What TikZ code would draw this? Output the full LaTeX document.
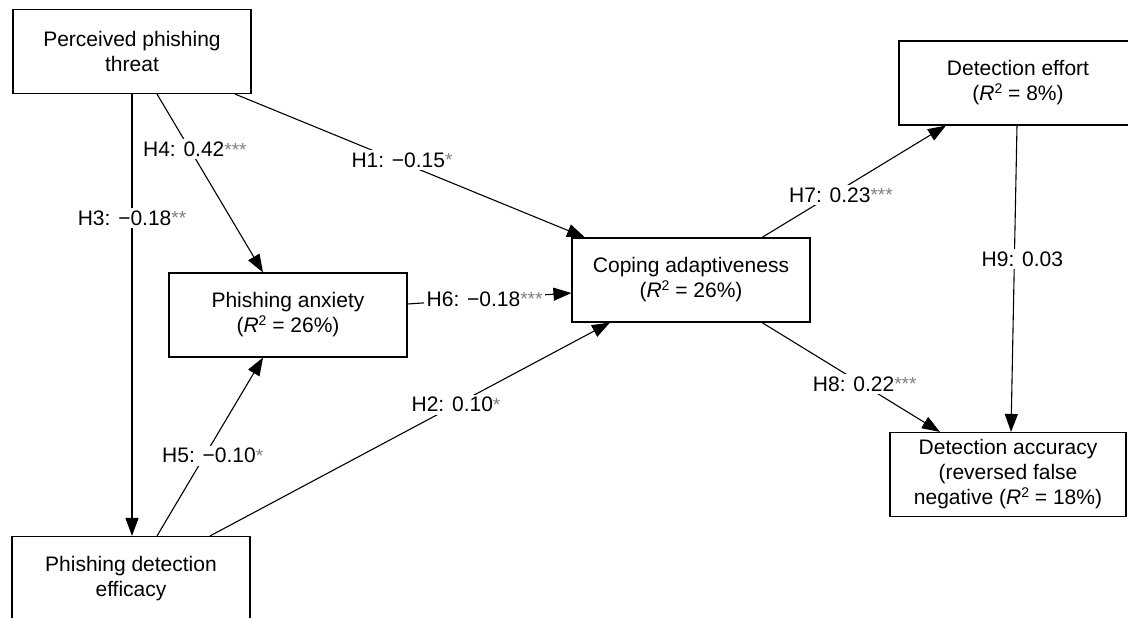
\documentclass[tikz,border=0pt]{standalone}
\usepackage{fontspec}
\setmainfont{Liberation Sans}
\usetikzlibrary{arrows.meta}

% significance stars, R-squared and minus sign
\newcommand{\sig}[1]{\raisebox{0.5pt}{\color{black!50}\fontsize{19}{19}\selectfont #1}}
\newcommand{\rsq}{\textit{R}\raisebox{7.5pt}{\fontsize{14}{14}\selectfont 2}}
\newcommand{\mns}{\char"2212\relax}

\tikzset{
  box/.style={draw, line width=1.1pt, minimum width=238pt, minimum height=84pt,
    inner sep=0pt, align=center, font=\fontsize{21}{25}\selectfont},
  link/.style={line width=1.1pt, -{Triangle[length=18pt,width=13pt]}},
  lab/.style={fill=white, inner sep=2.5pt, font=\fontsize{21}{25}\selectfont},
}

\begin{document}
\begin{tikzpicture}[x=1pt,y=-1pt]
\useasboundingbox (0,0) rectangle (1128,618);

% constructs
\node[box] (threat)   at (132,51.5)  {Perceived phishing\\threat};
\node[box] (anxiety)  at (288,315)   {Phishing anxiety\\(\rsq{} = 26\%)};
\node[box] (efficacy) at (131,578.5) {Phishing detection\\efficacy};
\node[box] (coping)   at (691,280)   {Coping adaptiveness\\(\rsq{} = 26\%)};
\node[box] (effort)   at (1018,83)   {Detection effort\\(\rsq{} = 8\%)};
\node[box, minimum width=236pt] (accuracy) at (1008,474.5)
  {Detection accuracy\\(reversed false\\negative (\rsq{} = 18\%)};

% hypothesised paths
\draw[link] (threat.south) --
  node[lab,pos=0.28] {H3: \mns 0.18\sig{**}} (threat.south |- efficacy.north);
\draw[link] ([xshift=25pt]threat.south) --
  node[lab,pos=0.31,xshift=5pt] {H4: 0.42\sig{***}} ([xshift=-25pt]anxiety.north);
\draw[link] ([xshift=103pt]threat.south) --
  node[lab,pos=0.46,xshift=6pt] {H1: \mns 0.15\sig{*}} ([xshift=-106pt]coping.north);
\draw[link] ([yshift=11pt]anxiety.east) --
  node[lab,pos=0.47] {H6: \mns 0.18\sig{***}} ([yshift=-13pt]coping.west);
\draw[link] ([xshift=26pt]efficacy.north) --
  node[lab,pos=0.45,xshift=8pt] {H5: \mns 0.10\sig{*}} ([xshift=-25pt]anxiety.south);
\draw[link] ([xshift=79pt]efficacy.north) --
  node[lab,pos=0.615] {H2: 0.10\sig{*}} ([xshift=-81pt]coping.south);
\draw[link] ([xshift=71pt]coping.north) --
  node[lab,pos=0.38,xshift=9pt] {H7: 0.23\sig{***}} ([xshift=-72pt]effort.south);
\draw[link] ([xshift=71pt]coping.south) --
  node[lab,pos=0.56,xshift=3pt] {H8: 0.22\sig{***}} ([xshift=-68pt]accuracy.north);
\draw[link] ([xshift=-1pt]effort.south) --
  node[lab,pos=0.435,xshift=8pt] {H9: 0.03} ([xshift=3pt]accuracy.north);
\end{tikzpicture}
\end{document}
